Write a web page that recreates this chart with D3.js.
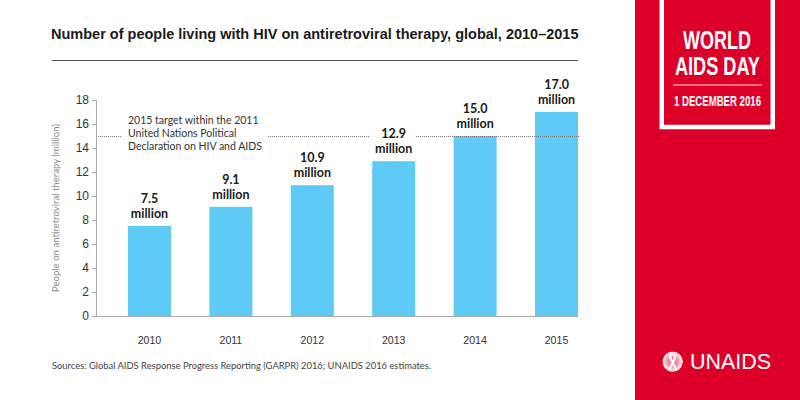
<!DOCTYPE html>
<html>
<head>
<meta charset="utf-8">
<script src="https://cdn.jsdelivr.net/npm/d3@7"></script>
<style>
  html, body { margin: 0; padding: 0; background: #fff; }
  svg { display: block; }
</style>
</head>
<body>
<div id="chart"></div>
<script>
// Chart data
const years = ["2010", "2011", "2012", "2013", "2014", "2015"];
const people = [7.5, 9.1, 10.9, 12.9, 15.0, 17.0];
const yTicks = [0, 2, 4, 6, 8, 10, 12, 14, 16, 18];
const targetValue = 15;
const targetLines = ["2015 target within the 2011", "United Nations Political", "Declaration on HIV and AIDS"];

const bodyFont = "Lato, 'Open Sans', sans-serif";
const red = "#dc0029";

const svg = d3.select("#chart").append("svg")
    .attr("width", 800)
    .attr("height", 400)
    .attr("viewBox", [0, 0, 800, 400]);

// Scales
const x = d3.scaleBand().domain(years).range([96, 610]).paddingInner(0.472).paddingOuter(0.393);
const y = d3.scaleLinear().domain([0, 18]).range([316, 100]);

// Title and rule
svg.append("text")
    .attr("x", 51).attr("y", 38.5)
    .attr("font-family", "'Liberation Sans', Arial, sans-serif")
    .attr("font-weight", "bold")
    .attr("font-size", 14.5)
    .attr("fill", "#1a1a1a")
    .text("Number of people living with HIV on antiretroviral therapy, global, 2010\u20132015");

svg.append("line")
    .attr("x1", 52).attr("x2", 578).attr("y1", 60.5).attr("y2", 60.5)
    .attr("stroke", "#555").attr("stroke-width", 1);

// Bars
svg.append("g").selectAll("rect")
    .data(years)
    .enter().append("rect")
    .attr("x", d => x(d))
    .attr("y", (d, i) => y(people[i]))
    .attr("width", x.bandwidth())
    .attr("height", (d, i) => y(0) - y(people[i]))
    .attr("fill", "#5dcbf6");

// Dotted target line, broken where the note and the 2013 label sit
const targetY = Math.round(y(targetValue)) + 0.5;
[[96, 121], [268, 370], [416, 579]].forEach(seg => {
    svg.append("line")
        .attr("x1", seg[0]).attr("x2", seg[1])
        .attr("y1", targetY).attr("y2", targetY)
        .attr("stroke", "#777")
        .attr("stroke-width", 1)
        .attr("stroke-dasharray", "1 1");
});

// Y axis
const yAxis = svg.append("g")
    .attr("transform", "translate(96,0)")
    .call(d3.axisLeft(y).tickValues(yTicks).tickSize(4).tickPadding(3).tickFormat(d3.format("d")));
yAxis.select(".domain").attr("stroke", "#aaa");
yAxis.selectAll(".tick line").attr("stroke", "#aaa");
yAxis.selectAll("text")
    .attr("font-family", "'Liberation Sans', Arial, sans-serif")
    .attr("font-size", 12)
    .attr("fill", "#333");

svg.append("line")
    .attr("x1", 96).attr("x2", 578).attr("y1", 316.5).attr("y2", 316.5)
    .attr("stroke", "#aaa");

svg.append("text")
    .attr("transform", "translate(59,208) rotate(-90)")
    .attr("text-anchor", "middle")
    .attr("font-family", bodyFont)
    .attr("font-size", 9.6)
    .attr("fill", "#8a8a8a")
    .text("People on antiretroviral therapy (million)");

// Year labels
svg.append("g").selectAll("text")
    .data(years)
    .enter().append("text")
    .attr("x", d => x(d) + x.bandwidth() / 2)
    .attr("y", 344)
    .attr("text-anchor", "middle")
    .attr("font-family", "'Liberation Sans', Arial, sans-serif")
    .attr("font-size", 10.6)
    .attr("fill", "#333")
    .text(d => d);

// Value labels above bars
const valueLabels = svg.append("g").selectAll("g")
    .data(years)
    .enter().append("g")
    .attr("transform", (d, i) => `translate(${x(d) + x.bandwidth() / 2},${y(people[i])})`)
    .attr("font-family", bodyFont)
    .attr("font-weight", "bold")
    .attr("font-size", 12.5)
    .attr("text-anchor", "middle")
    .attr("fill", "#1a1a1a");
valueLabels.append("text").attr("y", -23).text((d, i) => people[i].toFixed(1));
valueLabels.append("text").attr("y", -8).text("million");

// Target note
svg.append("g").selectAll("text")
    .data(targetLines)
    .enter().append("text")
    .attr("x", 128)
    .attr("y", (d, i) => 124 + i * 12.8)
    .attr("font-family", bodyFont)
    .attr("font-size", 10.5)
    .attr("fill", "#333")
    .text(d => d);

// Source
svg.append("text")
    .attr("x", 52).attr("y", 369)
    .attr("font-family", bodyFont)
    .attr("font-size", 9.4)
    .attr("fill", "#444")
    .text("Sources: Global AIDS Response Progress Reporting (GARPR) 2016; UNAIDS 2016 estimates.");

// Red side panel
svg.append("rect").attr("x", 635).attr("y", 0).attr("width", 165).attr("height", 400).attr("fill", red);
svg.append("rect")
    .attr("x", 661.75).attr("y", -5).attr("width", 111).attr("height", 132)
    .attr("fill", "none").attr("stroke", "#fff").attr("stroke-width", 4.5);

// Squeeze a text horizontally until it spans the wanted width
function fitText(txt, tx, ty, size, len, family, weight) {
    const t = svg.append("text")
        .attr("font-family", family)
        .attr("font-weight", weight)
        .attr("font-size", size)
        .attr("fill", "#fff")
        .text(txt);
    const sx = len / t.node().getComputedTextLength();
    t.attr("transform", `translate(${tx},${ty}) scale(${sx},1)`);
    return t;
}

const narrow = "'Liberation Sans Narrow', 'Liberation Sans', sans-serif";
fitText("WORLD", 683, 49, 26.5, 68, narrow, "bold");
fitText("AIDS DAY", 675, 75, 26.5, 85, narrow, "bold");
fitText("1 DECEMBER 2016", 674, 106, 14, 87, narrow, "bold");

svg.append("line")
    .attr("x1", 673).attr("x2", 762).attr("y1", 85).attr("y2", 85)
    .attr("stroke", "#fff").attr("stroke-opacity", 0.85).attr("stroke-width", 1);

// UNAIDS logo: emblem plus wordmark
const logo = svg.append("g").attr("transform", "translate(672.7,361.7)");
logo.append("circle").attr("r", 10).attr("fill", "#f4bcc8");
logo.append("circle").attr("r", 9).attr("fill", "none")
    .attr("stroke", "#fff").attr("stroke-width", 2).attr("stroke-dasharray", "1.5 1");
logo.append("circle").attr("r", 6).attr("fill", "#ee8ca0");
logo.append("path")
    .attr("d", "M-3,7 L2,-3 A2.4,2.4 0 1 0 -2,-3 L3,7")
    .attr("fill", "none").attr("stroke", "#fff").attr("stroke-width", 2);

fitText("UNAIDS", 690, 369, 22, 81, "'Liberation Sans', sans-serif", "normal");
</script>
</body>
</html>
